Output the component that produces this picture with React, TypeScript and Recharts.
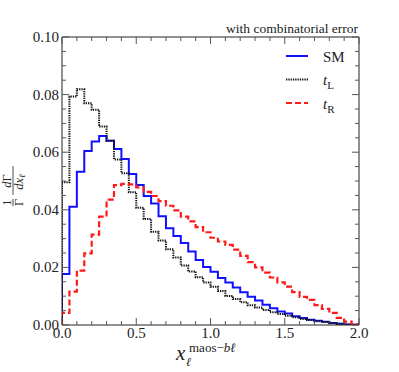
import React from 'react';
import { LineChart, Line, XAxis, YAxis } from 'recharts';

// histogram bins of width 0.05 on [0, 2]
const binWidth = 0.05;

const smValues = [
  0.0177, 0.0411, 0.0532, 0.0604, 0.0637, 0.0656, 0.064, 0.0611, 0.0576, 0.0524,
  0.0486, 0.0448, 0.0422, 0.0378, 0.0336, 0.0309, 0.0285, 0.0255, 0.0226, 0.0201,
  0.0185, 0.0163, 0.0148, 0.013, 0.0114, 0.0098, 0.0085, 0.007, 0.0058, 0.0047,
  0.004, 0.003, 0.0024, 0.0018, 0.0015, 0.0011, 0.0007, 0.0004, 0.0002, 0.0001,
];

const tlValues = [
  0.0496, 0.0793, 0.0819, 0.077, 0.0747, 0.0689, 0.064, 0.0575, 0.0527, 0.0461,
  0.0407, 0.0368, 0.0324, 0.0293, 0.0263, 0.0234, 0.0207, 0.0186, 0.0166, 0.0148,
  0.0133, 0.0118, 0.0101, 0.009, 0.0079, 0.0069, 0.0061, 0.0052, 0.0044, 0.0038,
  0.0032, 0.0027, 0.0021, 0.0017, 0.0013, 0.001, 0.0007, 0.0004, 0.0002, 0.0001,
];

const trValues = [
  0.0042, 0.0116, 0.0189, 0.0249, 0.0314, 0.0376, 0.0435, 0.0486, 0.049, 0.0488,
  0.0478, 0.0462, 0.0448, 0.043, 0.0414, 0.0398, 0.0376, 0.036, 0.034, 0.0322,
  0.0303, 0.029, 0.0278, 0.0262, 0.024, 0.0218, 0.02, 0.0182, 0.0165, 0.0148,
  0.0133, 0.0114, 0.0098, 0.0087, 0.0069, 0.0056, 0.0042, 0.0025, 0.0012, 0.0003,
];

const xMajorTicks = [0, 0.5, 1, 1.5, 2];
const yMajorTicks = [0, 0.02, 0.04, 0.06, 0.08, 0.1];

const series = [
  { key: 'sm', name: 'SM', sub: '', color: '#1010ff', width: 2, dash: undefined },
  { key: 'tl', name: 't', sub: 'L', color: '#111111', width: 2, dash: '1.3 1' },
  { key: 'tr', name: 't', sub: 'R', color: '#ff1a1a', width: 2.2, dash: '6 3' },
];

const data = [
  { x: 0, sm: 0, tl: 0, tr: 0 },
  ...smValues.map((v, i) => ({ x: i * binWidth, sm: v, tl: tlValues[i], tr: trValues[i] })),
  { x: 2, sm: 0, tl: 0, tr: 0 },
];

const xTicks = Array.from({ length: 21 }, (_, i) => i * 0.1);
const yTicks = Array.from({ length: 21 }, (_, i) => i * 0.005);

const isMajor = (v: number, list: number[]) => list.some((m) => Math.abs(m - v) < 1e-9);

const font = '"Liberation Serif", "DejaVu Serif", serif';

const tick = (side: 'bottom' | 'top' | 'left' | 'right') => (props: any) => {
  const { x, y, payload } = props;
  const v = payload.value;
  const major = side === 'bottom' || side === 'top' ? isMajor(v, xMajorTicks) : isMajor(v, yMajorTicks);
  const len = major ? 7 : 4;
  const stroke = '#555';
  if (side === 'bottom') {
    return (
      <g>
        <line x1={x} y1={y} x2={x} y2={y - len} stroke={stroke} />
        {major && (
          <text x={x} y={y + 13} textAnchor="middle" fontSize={15} fontFamily={font} fill="#222">
            {v.toFixed(1)}
          </text>
        )}
      </g>
    );
  }
  if (side === 'top') return <line x1={x} y1={y} x2={x} y2={y + len} stroke={stroke} />;
  if (side === 'right') return <line x1={x} y1={y} x2={x - len} y2={y} stroke={stroke} />;
  return (
    <g>
      <line x1={x} y1={y} x2={x + len} y2={y} stroke={stroke} />
      {major && (
        <text x={x - 3} y={y + 5} textAnchor="end" fontSize={15} fontFamily={font} fill="#222">
          {v.toFixed(2)}
        </text>
      )}
    </g>
  );
};

const axisLine = { stroke: '#222', strokeWidth: 1 };

const Overlay = () => (
  <svg
    width={399}
    height={372}
    style={{ position: 'absolute', left: 0, top: 0, pointerEvents: 'none' }}
    fontFamily={font}
  >
    <text x={358} y={33} textAnchor="end" fontSize={13.5} fill="#222">
      with combinatorial error
    </text>

    {series.map((s, i) => {
      const y = 56 + i * 23.5;
      return (
        <g key={s.key}>
          <line x1={286} x2={308} y1={y} y2={y} stroke={s.color} strokeWidth={s.width} strokeDasharray={s.dash} />
          <text x={323} y={y + 5.5} fontSize={15} fill="#222">
            {s.sub ? (
              <>
                <tspan fontStyle="italic">{s.name}</tspan>
                <tspan fontSize={11} dy={4}>{s.sub}</tspan>
              </>
            ) : (
              s.name
            )}
          </text>
        </g>
      );
    })}

    {/* x-axis title */}
    <text x={176} y={360} fontSize={21} fontStyle="italic" fill="#222">x</text>
    <text x={186} y={366} fontSize={12} fontStyle="italic" fill="#222">ℓ</text>
    <text x={189} y={352} fontSize={13} fill="#222">
      maos−<tspan fontStyle="italic">bℓ</tspan>
    </text>

    {/* y-axis title */}
    <g transform="translate(13,206) rotate(-90)" fill="#222" fontSize={12.5}>
      <text x={3.5} y={-2} textAnchor="middle">1</text>
      <line x1={0} x2={7} y1={0} y2={0} stroke="#222" strokeWidth={0.8} />
      <text x={3.5} y={9.5} textAnchor="middle">Γ</text>
      <text x={25} y={-2} textAnchor="middle">
        <tspan fontStyle="italic">d</tspan>Γ
      </text>
      <line x1={11} x2={40} y1={0} y2={0} stroke="#222" strokeWidth={0.8} />
      <text x={24} y={9.5} textAnchor="middle">
        <tspan fontStyle="italic">dx</tspan>
        <tspan fontStyle="italic" fontSize={8.5} dy={2}>ℓ</tspan>
      </text>
    </g>
  </svg>
);

export default function App() {
  return (
    <div style={{ position: 'absolute', left: 0, top: 0, width: 399, height: 372, background: '#fff' }}>
      <LineChart width={399} height={372} data={data} margin={{ top: 36, right: 39, bottom: 0, left: 0 }}>
        <XAxis
          dataKey="x"
          type="number"
          domain={[0, 2]}
          ticks={xTicks}
          interval={0}
          height={47}
          tickSize={0}
          tickMargin={0}
          tickLine={false}
          axisLine={axisLine}
          tick={tick('bottom')}
          allowDataOverflow
        />
        <XAxis
          xAxisId="top"
          dataKey="x"
          orientation="top"
          type="number"
          domain={[0, 2]}
          ticks={xTicks}
          interval={0}
          height={1}
          tickSize={0}
          tickMargin={0}
          tickLine={false}
          axisLine={axisLine}
          tick={tick('top')}
          allowDataOverflow
        />
        <YAxis
          type="number"
          domain={[0, 0.1]}
          ticks={yTicks}
          interval={0}
          width={62}
          tickSize={0}
          tickMargin={0}
          tickLine={false}
          axisLine={axisLine}
          tick={tick('left')}
          allowDataOverflow
        />
        <YAxis
          yAxisId="right"
          orientation="right"
          type="number"
          domain={[0, 0.1]}
          ticks={yTicks}
          interval={0}
          width={1}
          tickSize={0}
          tickMargin={0}
          tickLine={false}
          axisLine={axisLine}
          tick={tick('right')}
          allowDataOverflow
        />
        {series.map((s) => (
          <Line
            key={s.key}
            dataKey={s.key}
            type="stepAfter"
            stroke={s.color}
            strokeWidth={s.width}
            strokeDasharray={s.dash}
            dot={false}
            activeDot={false}
            isAnimationActive={false}
          />
        ))}
      </LineChart>
      <Overlay />
    </div>
  );
}
